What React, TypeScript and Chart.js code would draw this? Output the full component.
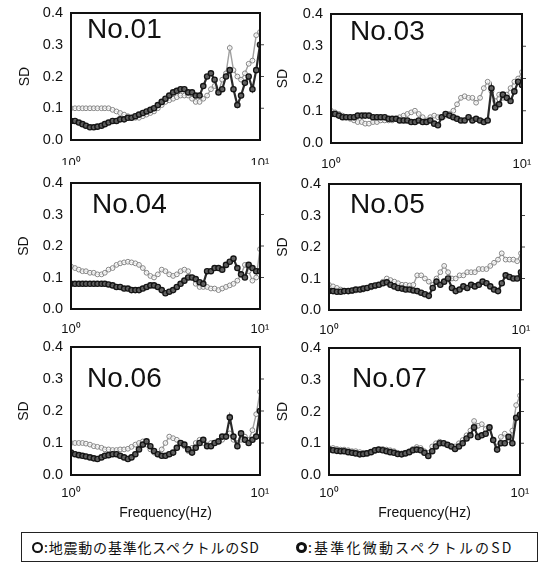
import React, { useEffect, useRef } from 'react';
import { Chart, registerables } from 'chart.js';

Chart.register(...registerables);

// ---------------- data ----------------
const FREQ = [
  1.0, 1.05, 1.1, 1.15, 1.2, 1.26, 1.32, 1.38, 1.45, 1.51, 1.58, 1.66, 1.74, 1.82, 1.91, 2.0, 2.09,
  2.19, 2.29, 2.4, 2.51, 2.63, 2.75, 2.88, 3.02, 3.16, 3.31, 3.47, 3.63, 3.8, 3.98, 4.17, 4.37,
  4.57, 4.79, 5.01, 5.25, 5.5, 5.75, 6.03, 6.31, 6.61, 6.92, 7.24, 7.59, 7.94, 8.32, 8.71, 9.12,
  9.55, 10.0,
];

const Y_TICKS = [0, 0.1, 0.2, 0.3, 0.4];
const X_TICKS = [1, 10];
const X_TICK_LABELS = ['10⁰', '10¹'];
const Y_TITLE = 'SD';
const X_TITLE = 'Frequency(Hz)';
const SERIES_NAMES = ['地震動の基準化スペクトルのSD', '基準化微動スペクトルのSD'];
const PANEL_NAMES = ['No.01', 'No.03', 'No.04', 'No.05', 'No.06', 'No.07'];

// 地震動の基準化スペクトルのSD (light)
const NO01_EQ = [0.1, 0.1, 0.1, 0.1, 0.1, 0.1, 0.1, 0.1, 0.1, 0.1, 0.1, 0.095, 0.09, 0.085, 0.08, 0.075, 0.07, 0.07, 0.07, 0.075, 0.08, 0.085, 0.09, 0.1, 0.11, 0.12, 0.125, 0.13, 0.135, 0.14, 0.14, 0.14, 0.13, 0.12, 0.12, 0.13, 0.14, 0.16, 0.17, 0.15, 0.19, 0.21, 0.29, 0.22, 0.2, 0.19, 0.21, 0.24, 0.25, 0.33, 0.34];
// 基準化微動スペクトルのSD (dark)
const NO01_MT = [0.06, 0.06, 0.055, 0.05, 0.045, 0.04, 0.04, 0.042, 0.045, 0.05, 0.055, 0.06, 0.06, 0.065, 0.065, 0.07, 0.07, 0.075, 0.08, 0.085, 0.09, 0.095, 0.1, 0.11, 0.12, 0.13, 0.14, 0.15, 0.155, 0.16, 0.16, 0.15, 0.15, 0.14, 0.14, 0.17, 0.2, 0.21, 0.19, 0.15, 0.16, 0.2, 0.22, 0.16, 0.11, 0.14, 0.18, 0.2, 0.16, 0.22, 0.3];

const NO03_EQ = [0.1, 0.095, 0.09, 0.085, 0.08, 0.075, 0.07, 0.065, 0.065, 0.06, 0.06, 0.065, 0.065, 0.07, 0.07, 0.07, 0.07, 0.075, 0.08, 0.085, 0.09, 0.095, 0.1, 0.09, 0.08, 0.07, 0.08, 0.085, 0.08, 0.08, 0.085, 0.09, 0.1, 0.12, 0.14, 0.145, 0.14, 0.14, 0.125, 0.14, 0.17, 0.19, 0.16, 0.13, 0.15, 0.14, 0.15, 0.17, 0.19, 0.2, 0.22];
const NO03_MT = [0.09, 0.09, 0.085, 0.08, 0.08, 0.08, 0.08, 0.085, 0.085, 0.085, 0.085, 0.08, 0.08, 0.08, 0.08, 0.075, 0.075, 0.075, 0.07, 0.07, 0.07, 0.065, 0.065, 0.07, 0.065, 0.065, 0.07, 0.06, 0.055, 0.08, 0.09, 0.085, 0.08, 0.075, 0.07, 0.07, 0.08, 0.07, 0.075, 0.07, 0.065, 0.07, 0.17, 0.11, 0.12, 0.15, 0.14, 0.13, 0.16, 0.19, 0.18];

const NO04_EQ = [0.135, 0.13, 0.125, 0.12, 0.12, 0.115, 0.115, 0.11, 0.11, 0.115, 0.125, 0.13, 0.14, 0.145, 0.148, 0.15, 0.148, 0.145, 0.14, 0.13, 0.115, 0.105, 0.1, 0.11, 0.125, 0.12, 0.11, 0.105, 0.11, 0.12, 0.125, 0.12, 0.1, 0.08, 0.07, 0.07, 0.07, 0.065, 0.065, 0.06, 0.065, 0.07, 0.075, 0.08, 0.09, 0.11, 0.14, 0.12, 0.09, 0.1, 0.19];
const NO04_MT = [0.08, 0.08, 0.08, 0.08, 0.08, 0.08, 0.08, 0.08, 0.08, 0.08, 0.078, 0.075, 0.07, 0.07, 0.065, 0.065, 0.06, 0.06, 0.06, 0.065, 0.07, 0.075, 0.075, 0.07, 0.06, 0.05, 0.055, 0.06, 0.07, 0.08, 0.09, 0.1, 0.1, 0.095, 0.085, 0.08, 0.12, 0.12, 0.13, 0.13, 0.125, 0.14, 0.15, 0.16, 0.13, 0.11, 0.1, 0.14, 0.13, 0.12, 0.12];

const NO05_EQ = [0.08, 0.075, 0.07, 0.065, 0.06, 0.06, 0.06, 0.062, 0.065, 0.065, 0.07, 0.072, 0.075, 0.08, 0.09, 0.1, 0.095, 0.09, 0.085, 0.08, 0.08, 0.078, 0.08, 0.11, 0.11, 0.1, 0.09, 0.08, 0.1, 0.12, 0.14, 0.12, 0.1, 0.1, 0.11, 0.11, 0.12, 0.12, 0.12, 0.13, 0.13, 0.13, 0.14, 0.15, 0.16, 0.18, 0.16, 0.16, 0.16, 0.155, 0.18];
const NO05_MT = [0.06, 0.06, 0.058, 0.058, 0.06, 0.06, 0.062, 0.065, 0.065, 0.068, 0.07, 0.075, 0.078, 0.08, 0.085, 0.088, 0.08, 0.075, 0.07, 0.068, 0.065, 0.065, 0.062, 0.06, 0.055, 0.05, 0.045, 0.07, 0.09, 0.08, 0.09, 0.1, 0.07, 0.06, 0.065, 0.075, 0.07, 0.08, 0.075, 0.08, 0.09, 0.085, 0.075, 0.065, 0.06, 0.085, 0.11, 0.105, 0.1, 0.1, 0.12];

const NO06_EQ = [0.1, 0.1, 0.1, 0.1, 0.098, 0.095, 0.09, 0.088, 0.085, 0.08, 0.08, 0.078, 0.078, 0.08, 0.08, 0.082, 0.088, 0.095, 0.1, 0.105, 0.095, 0.08, 0.07, 0.065, 0.08, 0.1, 0.12, 0.115, 0.11, 0.1, 0.09, 0.075, 0.085, 0.1, 0.11, 0.1, 0.095, 0.1, 0.1, 0.105, 0.11, 0.12, 0.13, 0.11, 0.1, 0.11, 0.12, 0.11, 0.14, 0.19, 0.26];
const NO06_MT = [0.07, 0.065, 0.062, 0.06, 0.058, 0.055, 0.052, 0.05, 0.055, 0.06, 0.062, 0.065, 0.065, 0.06, 0.055, 0.05, 0.055, 0.065, 0.08, 0.095, 0.105, 0.09, 0.075, 0.065, 0.06, 0.06, 0.065, 0.07, 0.085, 0.1, 0.095, 0.08, 0.07, 0.085, 0.1, 0.11, 0.09, 0.09, 0.1, 0.105, 0.12, 0.12, 0.18, 0.12, 0.09, 0.13, 0.11, 0.1, 0.11, 0.12, 0.2];

const NO07_EQ = [0.085, 0.085, 0.082, 0.08, 0.08, 0.078, 0.075, 0.075, 0.072, 0.07, 0.07, 0.072, 0.075, 0.08, 0.082, 0.08, 0.078, 0.075, 0.07, 0.068, 0.07, 0.075, 0.082, 0.088, 0.085, 0.075, 0.07, 0.09, 0.1, 0.105, 0.1, 0.095, 0.09, 0.09, 0.1, 0.11, 0.125, 0.14, 0.17, 0.155, 0.16, 0.145, 0.15, 0.11, 0.09, 0.12, 0.13, 0.11, 0.14, 0.22, 0.25];
const NO07_MT = [0.08, 0.078, 0.076, 0.075, 0.075, 0.072, 0.07, 0.068, 0.065, 0.066, 0.068, 0.072, 0.078, 0.08, 0.078, 0.075, 0.072, 0.07, 0.066, 0.065, 0.068, 0.072, 0.078, 0.08, 0.078, 0.07, 0.06, 0.075, 0.09, 0.1, 0.1, 0.095, 0.09, 0.082, 0.09, 0.1, 0.115, 0.125, 0.15, 0.12, 0.125, 0.13, 0.15, 0.11, 0.08, 0.1, 0.1, 0.12, 0.1, 0.18, 0.19];

const EQ_SERIES = [NO01_EQ, NO03_EQ, NO04_EQ, NO05_EQ, NO06_EQ, NO07_EQ];
const MT_SERIES = [NO01_MT, NO03_MT, NO04_MT, NO05_MT, NO06_MT, NO07_MT];

// ---------------- layout ----------------
type Layout = {
  cx: number; cy: number; cw: number; ch: number;
  L: number; R: number; T: number; B: number;
  sdX: number; lx: number; ly: number; tickPad: number; xTitle: boolean;
};

const LAYOUTS: Layout[] = [
  { cx: 0, cy: 0, cw: 272, ch: 170, L: 71, R: 260, T: 13, B: 140, sdX: 25, lx: 16, ly: 25, tickPad: 16, xTitle: false },
  { cx: 272, cy: 0, cw: 272, ch: 170, L: 331, R: 522, T: 14, B: 143, sdX: 283, lx: 19, ly: 26, tickPad: 14, xTitle: false },
  { cx: 0, cy: 170, cw: 272, ch: 170, L: 71, R: 260, T: 183, B: 309, sdX: 24, lx: 21, ly: 30, tickPad: 13, xTitle: false },
  { cx: 272, cy: 170, cw: 272, ch: 170, L: 329, R: 521, T: 184, B: 310, sdX: 283, lx: 21, ly: 29, tickPad: 13, xTitle: false },
  { cx: 0, cy: 340, cw: 272, ch: 190, L: 71, R: 260, T: 347, B: 475, sdX: 24, lx: 16, ly: 40, tickPad: 11, xTitle: true },
  { cx: 272, cy: 340, cw: 272, ch: 190, L: 329, R: 520, T: 348, B: 475, sdX: 283, lx: 23, ly: 39, tickPad: 11, xTitle: true },
];

const FONT = '"Liberation Sans", Arial, Helvetica, sans-serif';
const INK = '#111111';

const framePlugin = {
  id: 'panelFrame',
  afterDraw(chart: any, _args: any, opts: any) {
    const { ctx, chartArea } = chart;
    const { left, right, top, bottom } = chartArea;
    ctx.save();
    ctx.strokeStyle = INK;
    ctx.lineWidth = 2;
    ctx.strokeRect(left, top, right - left, bottom - top);
    // small outer ticks on the right side
    const ys = chart.scales.y;
    ctx.lineWidth = 1;
    ctx.strokeStyle = '#444';
    Y_TICKS.slice(1, -1).forEach((v) => {
      const py = ys.getPixelForValue(v);
      ctx.beginPath();
      ctx.moveTo(right + 1, py);
      ctx.lineTo(right + 4, py);
      ctx.stroke();
    });
    // panel label
    ctx.fillStyle = INK;
    ctx.font = `28px ${FONT}`;
    ctx.textAlign = 'left';
    ctx.textBaseline = 'alphabetic';
    ctx.fillText(opts.text, left + opts.dx, top + opts.dy);
    ctx.restore();
  },
};

function Panel({ index }: { index: number }) {
  const ref = useRef<HTMLCanvasElement>(null);
  const lay = LAYOUTS[index];

  useEffect(() => {
    const { cx, cy, cw, ch, L, R, T, B } = lay;
    const axisW = L - cx;
    const padTop = T - cy;
    const padRight = cx + cw - R;
    const titleBottom = 522;
    const xAxisH = lay.xTitle ? titleBottom - B : 25;
    const padBottom = ch - (B - cy) - xAxisH;
    const yTitleFont = 14;

    const chart = new Chart(ref.current as HTMLCanvasElement, {
      type: 'scatter',
      data: {
        datasets: [
          {
            label: SERIES_NAMES[1],
            data: FREQ.map((f, i) => ({ x: f, y: MT_SERIES[index][i] })),
            showLine: true,
            borderWidth: 2.2,
            borderColor: '#2a2a2a',
            pointStyle: 'circle',
            pointRadius: 2.6,
            pointBorderWidth: 1.4,
            pointBorderColor: '#151515',
            pointBackgroundColor: 'rgba(100,100,100,0.9)',
            order: 1,
          },
          {
            label: SERIES_NAMES[0],
            data: FREQ.map((f, i) => ({ x: f, y: EQ_SERIES[index][i] })),
            showLine: true,
            borderWidth: 1.4,
            borderColor: '#a0a0a0',
            pointStyle: 'circle',
            pointRadius: 2.4,
            pointBorderWidth: 1,
            pointBorderColor: '#858585',
            pointBackgroundColor: 'rgba(255,255,255,0.7)',
            order: 2,
          },
        ],
      },
      options: {
        animation: false,
        responsive: false,
        maintainAspectRatio: false,
        events: [],
        layout: { padding: { left: 0, top: padTop, right: padRight, bottom: padBottom } },
        plugins: {
          legend: { display: false },
          tooltip: { enabled: false },
          title: { display: false },
          panelFrame: { text: PANEL_NAMES[index], dx: lay.lx, dy: lay.ly },
        } as any,
        scales: {
          x: {
            type: 'logarithmic',
            min: 1,
            max: 10,
            afterBuildTicks: (s: any) => {
              s.ticks = X_TICKS.map((v) => ({ value: v }));
            },
            afterFit: (s: any) => {
              s.height = xAxisH;
              s.paddingLeft = 0;
              s.paddingRight = 0;
            },
            grid: { display: false, drawTicks: false },
            border: { display: false },
            ticks: {
              autoSkip: false,
              maxRotation: 0,
              padding: lay.tickPad,
              color: INK,
              font: { family: FONT, size: 13 },
              callback: (v: any) => X_TICK_LABELS[X_TICKS.indexOf(Number(v))] ?? '',
            },
            title: {
              display: lay.xTitle,
              text: X_TITLE,
              color: INK,
              font: { family: FONT, size: 14 },
              padding: { top: 0, bottom: 0 },
            },
          },
          y: {
            min: 0,
            max: 0.4,
            afterBuildTicks: (s: any) => {
              s.ticks = Y_TICKS.map((v) => ({ value: v }));
            },
            afterFit: (s: any) => {
              s.width = axisW;
              s.paddingTop = 0;
              s.paddingBottom = 0;
            },
            grid: { display: false, drawTicks: false },
            border: { display: false },
            ticks: {
              padding: 8,
              color: INK,
              font: { family: FONT, size: 14.5 },
              callback: (v: any) => Number(v).toFixed(1),
            },
            title: {
              display: true,
              text: Y_TITLE,
              color: INK,
              font: { family: FONT, size: yTitleFont },
              padding: { top: lay.sdX - cx - (yTitleFont * 1.2) / 2, bottom: 0 },
            },
          },
        },
      } as any,
      plugins: [framePlugin],
    });
    return () => chart.destroy();
  }, [index]);

  return (
    <canvas
      ref={ref}
      width={lay.cw}
      height={lay.ch}
      style={{ position: 'absolute', left: lay.cx, top: lay.cy, width: lay.cw, height: lay.ch }}
    />
  );
}

function Marker({ bold }: { bold: boolean }) {
  return (
    <span
      style={{
        display: 'inline-block',
        width: 11,
        height: 11,
        borderRadius: '50%',
        border: `${bold ? 3 : 2}px solid #111`,
        boxSizing: 'border-box',
        background: '#fff',
      }}
    />
  );
}

export default function App() {
  const jp = '"Noto Sans CJK JP", "Noto Sans CJK SC", sans-serif';
  return (
    <div
      style={{
        position: 'absolute',
        left: 0,
        top: 0,
        width: 544,
        height: 565,
        background: '#ffffff',
        overflow: 'hidden',
      }}
    >
      {LAYOUTS.map((_, i) => (
        <Panel key={i} index={i} />
      ))}
      <div
        style={{
          position: 'absolute',
          left: 21,
          top: 532,
          width: 517,
          height: 30,
          border: '1.5px solid #222',
          boxSizing: 'border-box',
        }}
      />
      <div
        style={{
          position: 'absolute',
          left: 32,
          top: 536,
          height: 22,
          display: 'flex',
          alignItems: 'center',
          fontFamily: jp,
          fontSize: 14,
          color: INK,
          letterSpacing: '0.8px',
          whiteSpace: 'nowrap',
        }}
      >
        <Marker bold={false} />
        <span style={{ marginLeft: 1 }}>:{SERIES_NAMES[0]}</span>
      </div>
      <div
        style={{
          position: 'absolute',
          left: 296,
          top: 536,
          height: 22,
          display: 'flex',
          alignItems: 'center',
          fontFamily: jp,
          fontSize: 14,
          color: INK,
          letterSpacing: '2.2px',
          whiteSpace: 'nowrap',
        }}
      >
        <Marker bold={true} />
        <span style={{ marginLeft: 1 }}>:{SERIES_NAMES[1]}</span>
      </div>
    </div>
  );
}
